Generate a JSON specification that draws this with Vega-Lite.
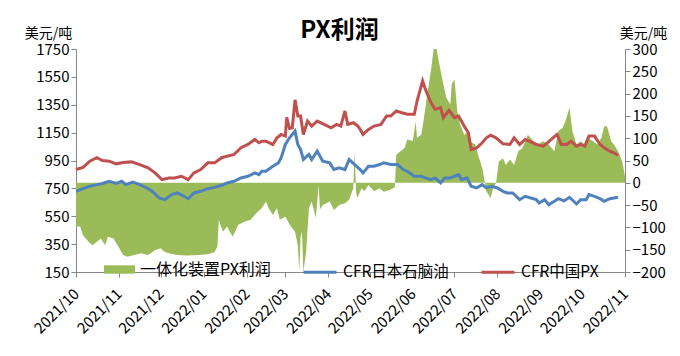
{
  "$schema": "https://vega.github.io/schema/vega-lite/v6.json",
  "width": 549,
  "height": 223,
  "autosize": {"type": "none"},
  "padding": {"left": 76, "top": 49, "right": 55, "bottom": 84},
  "background": "white",
  "config": {"font": "Noto Sans CJK SC", "view": {"stroke": null}, "axis": {"labelOverlap": false}, "axisY": {"labelOverlap": false}, "axisLeft": {"labelOverlap": false}},
  "title": {"text": "PX利润", "fontSize": 24, "fontWeight": "bold", "color": "black", "dx": -11, "dy": 23, "offset": 6, "font": "Noto Sans CJK SC"},
  "datasets": {
    "profit": [
      {"d":"2021-10-01","v":-98},{"d":"2021-10-04","v":-98},{"d":"2021-10-06","v":-117},{"d":"2021-10-10","v":-132},{"d":"2021-10-13","v":-140},{"d":"2021-10-16","v":-132},{"d":"2021-10-19","v":-125},{"d":"2021-10-22","v":-140},{"d":"2021-10-24","v":-121},{"d":"2021-10-28","v":-125},{"d":"2021-10-31","v":-140},
      {"d":"2021-11-04","v":-162},{"d":"2021-11-07","v":-166},{"d":"2021-11-12","v":-162},{"d":"2021-11-17","v":-158},{"d":"2021-11-22","v":-162},{"d":"2021-11-27","v":-151},
      {"d":"2021-12-01","v":-147},{"d":"2021-12-04","v":-155},{"d":"2021-12-07","v":-158},{"d":"2021-12-13","v":-162},{"d":"2021-12-20","v":-163},{"d":"2021-12-28","v":-162},
      {"d":"2022-01-04","v":-160},{"d":"2022-01-09","v":-155},{"d":"2022-01-11","v":-143},{"d":"2022-01-12","v":-83},{"d":"2022-01-15","v":-110},{"d":"2022-01-18","v":-98},{"d":"2022-01-22","v":-121},{"d":"2022-01-26","v":-94},{"d":"2022-01-31","v":-87},
      {"d":"2022-02-04","v":-83},{"d":"2022-02-08","v":-68},{"d":"2022-02-12","v":-57},{"d":"2022-02-15","v":-42},{"d":"2022-02-17","v":-57},{"d":"2022-02-20","v":-72},{"d":"2022-02-23","v":-57},{"d":"2022-02-25","v":-83},
      {"d":"2022-03-01","v":-76},{"d":"2022-03-05","v":-98},{"d":"2022-03-08","v":-110},{"d":"2022-03-10","v":-140},{"d":"2022-03-11","v":-200},{"d":"2022-03-12","v":-120},{"d":"2022-03-13","v":-110},{"d":"2022-03-14","v":-200},{"d":"2022-03-16","v":-155},{"d":"2022-03-18","v":-57},{"d":"2022-03-20","v":-42},{"d":"2022-03-23","v":-79},{"d":"2022-03-25","v":-5},{"d":"2022-03-26","v":-60},{"d":"2022-03-28","v":-50},
      {"d":"2022-04-02","v":-42},{"d":"2022-04-05","v":-61},{"d":"2022-04-09","v":-50},{"d":"2022-04-13","v":-46},{"d":"2022-04-16","v":-38},{"d":"2022-04-19","v":-12},{"d":"2022-04-20","v":70},{"d":"2022-04-21","v":-20},{"d":"2022-04-22","v":-34},{"d":"2022-04-25","v":-12},{"d":"2022-04-27","v":-19},{"d":"2022-04-30","v":-5},
      {"d":"2022-05-04","v":-19},{"d":"2022-05-08","v":-12},{"d":"2022-05-11","v":-20},{"d":"2022-05-16","v":-15},{"d":"2022-05-19","v":-10},{"d":"2022-05-20","v":63},{"d":"2022-05-22","v":68},{"d":"2022-05-26","v":78},{"d":"2022-05-28","v":97},
      {"d":"2022-06-01","v":94},{"d":"2022-06-03","v":138},{"d":"2022-06-04","v":101},{"d":"2022-06-07","v":108},{"d":"2022-06-09","v":146},{"d":"2022-06-11","v":191},{"d":"2022-06-14","v":251},{"d":"2022-06-16","v":300},{"d":"2022-06-18","v":300},{"d":"2022-06-21","v":251},{"d":"2022-06-23","v":221},{"d":"2022-06-25","v":191},{"d":"2022-06-28","v":176},{"d":"2022-06-29","v":221},
      {"d":"2022-07-01","v":232},{"d":"2022-07-03","v":161},{"d":"2022-07-05","v":131},{"d":"2022-07-08","v":108},{"d":"2022-07-10","v":112},{"d":"2022-07-12","v":93},{"d":"2022-07-16","v":86},{"d":"2022-07-18","v":63},{"d":"2022-07-21","v":33},{"d":"2022-07-23","v":0},{"d":"2022-07-24","v":-19},{"d":"2022-07-27","v":-34},{"d":"2022-07-29","v":-12},{"d":"2022-07-31","v":0},
      {"d":"2022-08-02","v":48},{"d":"2022-08-05","v":55},{"d":"2022-08-07","v":40},{"d":"2022-08-10","v":52},{"d":"2022-08-13","v":40},{"d":"2022-08-16","v":71},{"d":"2022-08-19","v":78},{"d":"2022-08-23","v":108},{"d":"2022-08-27","v":93},{"d":"2022-08-30","v":86},
      {"d":"2022-09-03","v":93},{"d":"2022-09-07","v":86},{"d":"2022-09-11","v":71},{"d":"2022-09-14","v":116},{"d":"2022-09-17","v":123},{"d":"2022-09-19","v":138},{"d":"2022-09-22","v":168},{"d":"2022-09-24","v":116},{"d":"2022-09-27","v":86},{"d":"2022-09-30","v":93},
      {"d":"2022-10-03","v":86},{"d":"2022-10-05","v":101},{"d":"2022-10-09","v":93},{"d":"2022-10-12","v":86},{"d":"2022-10-15","v":101},{"d":"2022-10-17","v":127},{"d":"2022-10-19","v":127},{"d":"2022-10-22","v":93},{"d":"2022-10-24","v":86},{"d":"2022-10-27","v":71},{"d":"2022-10-30","v":48},{"d":"2022-11-01","v":14}
    ],
    "naphtha": [
      {"d":"2021-10-01","v":729},{"d":"2021-10-06","v":748},{"d":"2021-10-11","v":765},{"d":"2021-10-16","v":777},{"d":"2021-10-20","v":785},{"d":"2021-10-25","v":801},{"d":"2021-10-30","v":785},
      {"d":"2021-11-03","v":801},{"d":"2021-11-06","v":777},{"d":"2021-11-11","v":795},{"d":"2021-11-16","v":777},{"d":"2021-11-21","v":753},{"d":"2021-11-25","v":729},{"d":"2021-11-30","v":681},
      {"d":"2021-12-04","v":669},{"d":"2021-12-09","v":705},{"d":"2021-12-13","v":717},{"d":"2021-12-18","v":693},{"d":"2021-12-21","v":676},{"d":"2021-12-25","v":717},{"d":"2021-12-30","v":729},
      {"d":"2022-01-04","v":748},{"d":"2022-01-09","v":757},{"d":"2022-01-14","v":772},{"d":"2022-01-18","v":789},{"d":"2022-01-23","v":801},{"d":"2022-01-28","v":825},
      {"d":"2022-02-02","v":837},{"d":"2022-02-07","v":861},{"d":"2022-02-10","v":849},{"d":"2022-02-12","v":873},{"d":"2022-02-15","v":873},{"d":"2022-02-20","v":909},{"d":"2022-02-24","v":933},{"d":"2022-02-26","v":970},
      {"d":"2022-03-01","v":1065},{"d":"2022-03-04","v":1113},{"d":"2022-03-06","v":1137},{"d":"2022-03-08","v":1161},{"d":"2022-03-10","v":1065},{"d":"2022-03-12","v":1029},{"d":"2022-03-14","v":957},{"d":"2022-03-18","v":993},{"d":"2022-03-20","v":957},{"d":"2022-03-24","v":1017},{"d":"2022-03-28","v":945},
      {"d":"2022-04-02","v":933},{"d":"2022-04-05","v":885},{"d":"2022-04-09","v":897},{"d":"2022-04-13","v":885},{"d":"2022-04-16","v":957},{"d":"2022-04-20","v":921},{"d":"2022-04-24","v":885},{"d":"2022-04-26","v":861},{"d":"2022-04-30","v":909},
      {"d":"2022-05-04","v":909},{"d":"2022-05-08","v":921},{"d":"2022-05-11","v":933},{"d":"2022-05-16","v":921},{"d":"2022-05-21","v":921},{"d":"2022-05-25","v":885},{"d":"2022-05-28","v":873},
      {"d":"2022-06-02","v":837},{"d":"2022-06-07","v":837},{"d":"2022-06-10","v":825},{"d":"2022-06-14","v":813},{"d":"2022-06-17","v":825},{"d":"2022-06-21","v":789},{"d":"2022-06-24","v":825},{"d":"2022-06-28","v":825},
      {"d":"2022-07-01","v":837},{"d":"2022-07-04","v":849},{"d":"2022-07-06","v":813},{"d":"2022-07-10","v":825},{"d":"2022-07-13","v":765},{"d":"2022-07-17","v":753},{"d":"2022-07-21","v":777},{"d":"2022-07-24","v":753},{"d":"2022-07-28","v":765},
      {"d":"2022-08-01","v":753},{"d":"2022-08-05","v":729},{"d":"2022-08-08","v":717},{"d":"2022-08-12","v":717},{"d":"2022-08-17","v":669},{"d":"2022-08-21","v":693},{"d":"2022-08-25","v":681},{"d":"2022-08-29","v":669},{"d":"2022-08-31","v":645},
      {"d":"2022-09-04","v":669},{"d":"2022-09-07","v":633},{"d":"2022-09-11","v":657},{"d":"2022-09-14","v":676},{"d":"2022-09-18","v":660},{"d":"2022-09-22","v":686},{"d":"2022-09-27","v":638},{"d":"2022-09-30","v":669},
      {"d":"2022-10-04","v":669},{"d":"2022-10-06","v":705},{"d":"2022-10-10","v":693},{"d":"2022-10-14","v":676},{"d":"2022-10-17","v":657},{"d":"2022-10-21","v":676},{"d":"2022-10-24","v":681},{"d":"2022-10-27","v":686}
    ],
    "px": [
      {"d":"2021-10-01","v":885},{"d":"2021-10-06","v":900},{"d":"2021-10-11","v":945},{"d":"2021-10-16","v":970},{"d":"2021-10-20","v":950},{"d":"2021-10-25","v":945},{"d":"2021-10-30","v":926},
      {"d":"2021-11-04","v":935},{"d":"2021-11-10","v":940},{"d":"2021-11-16","v":921},{"d":"2021-11-22","v":897},{"d":"2021-11-27","v":861},
      {"d":"2021-12-02","v":813},{"d":"2021-12-07","v":825},{"d":"2021-12-11","v":825},{"d":"2021-12-16","v":837},{"d":"2021-12-21","v":813},{"d":"2021-12-25","v":861},{"d":"2021-12-30","v":885},
      {"d":"2022-01-04","v":933},{"d":"2022-01-09","v":933},{"d":"2022-01-14","v":970},{"d":"2022-01-18","v":981},{"d":"2022-01-23","v":993},{"d":"2022-01-28","v":1042},
      {"d":"2022-02-02","v":1065},{"d":"2022-02-07","v":1101},{"d":"2022-02-10","v":1077},{"d":"2022-02-12","v":1089},{"d":"2022-02-15","v":1089},{"d":"2022-02-20","v":1065},{"d":"2022-02-23","v":1113},{"d":"2022-02-26","v":1137},
      {"d":"2022-03-01","v":1125},{"d":"2022-03-02","v":1260},{"d":"2022-03-04","v":1180},{"d":"2022-03-06","v":1185},{"d":"2022-03-08","v":1385},{"d":"2022-03-10","v":1269},{"d":"2022-03-12","v":1269},{"d":"2022-03-14","v":1137},{"d":"2022-03-17","v":1233},{"d":"2022-03-20","v":1197},{"d":"2022-03-24","v":1233},{"d":"2022-03-29","v":1209},
      {"d":"2022-04-03","v":1185},{"d":"2022-04-07","v":1209},{"d":"2022-04-10","v":1197},{"d":"2022-04-13","v":1305},{"d":"2022-04-15","v":1209},{"d":"2022-04-19","v":1221},{"d":"2022-04-22","v":1200},{"d":"2022-04-24","v":1173},{"d":"2022-04-26","v":1137},{"d":"2022-04-30","v":1173},
      {"d":"2022-05-04","v":1197},{"d":"2022-05-09","v":1209},{"d":"2022-05-13","v":1269},{"d":"2022-05-16","v":1269},{"d":"2022-05-20","v":1305},{"d":"2022-05-24","v":1293},{"d":"2022-05-28","v":1282},
      {"d":"2022-06-02","v":1282},{"d":"2022-06-04","v":1377},{"d":"2022-06-08","v":1521},{"d":"2022-06-10","v":1462},{"d":"2022-06-14","v":1366},{"d":"2022-06-17","v":1317},{"d":"2022-06-21","v":1329},{"d":"2022-06-23","v":1257},{"d":"2022-06-27","v":1310},
      {"d":"2022-07-01","v":1257},{"d":"2022-07-04","v":1269},{"d":"2022-07-08","v":1197},{"d":"2022-07-11","v":1149},{"d":"2022-07-13","v":1029},{"d":"2022-07-17","v":1041},{"d":"2022-07-21","v":1077},{"d":"2022-07-24","v":1113},{"d":"2022-07-27","v":1132},{"d":"2022-07-31","v":1113},
      {"d":"2022-08-05","v":1070},{"d":"2022-08-10","v":1065},{"d":"2022-08-13","v":1113},{"d":"2022-08-17","v":1065},{"d":"2022-08-21","v":1101},{"d":"2022-08-24","v":1089},{"d":"2022-08-29","v":1065},
      {"d":"2022-09-03","v":1053},{"d":"2022-09-06","v":1077},{"d":"2022-09-10","v":1113},{"d":"2022-09-13","v":1137},{"d":"2022-09-16","v":1065},{"d":"2022-09-20","v":1065},{"d":"2022-09-23","v":1089},{"d":"2022-09-27","v":1053},{"d":"2022-09-30","v":1065},
      {"d":"2022-10-03","v":1053},{"d":"2022-10-06","v":1125},{"d":"2022-10-10","v":1125},{"d":"2022-10-14","v":1065},{"d":"2022-10-17","v":1041},{"d":"2022-10-21","v":1017},{"d":"2022-10-24","v":1005},{"d":"2022-10-27","v":988}
    ]
  },
  "layer": [
    {
      "data": {"name": "profit"},
      "mark": {"type": "area", "clip": true, "opacity": 1},
      "encoding": {
        "x": {"field": "d", "type": "temporal",
          "scale": {"type": "utc", "domain": [{"year": 2021, "month": 10, "date": 1, "utc": true}, {"year": 2022, "month": 11, "date": 1, "utc": true}]},
          "axis": {"title": null, "format": "%Y/%m", "tickCount": {"interval": "month", "step": 1}, "labelAngle": -45, "labelAlign": "right", "labelBaseline": "middle", "labelFontSize": 15, "labelColor": "black", "labelPadding": 14, "labelDx": 3, "labelOverlap": false, "labelFlush": false, "labelBound": false, "grid": false, "tickSize": 5, "domainColor": "#868686", "tickColor": "#868686"}},
        "y": {"field": "v", "type": "quantitative", "stack": null,
          "scale": {"domain": [-200, 300], "nice": false, "zero": false},
          "axis": {"orient": "right", "values": [-200, -150, -100, -50, 0, 50, 100, 150, 200, 250, 300], "format": "d", "labelOverlap": false, "title": "美元/吨", "titleAngle": 0, "titleX": 18, "titleY": -9, "titleAlign": "center", "titleBaseline": "bottom", "titleFontSize": 14, "titleFontWeight": "normal", "titleColor": "black", "labelFontSize": 15, "labelColor": "black", "grid": false, "tickSize": 5, "domainColor": "#868686", "tickColor": "#868686"}},
        "y2": {"datum": 0},
        "fill": {"datum": "一体化装置PX利润", "type": "nominal",
          "scale": {"domain": ["一体化装置PX利润"], "range": ["#9BBB59"]},
          "legend": {"title": null, "orient": "none", "legendX": 28, "legendY": 205, "symbolType": "M-1,-0.27L1,-0.27L1,0.27L-1,0.27Z", "symbolSize": 961, "symbolStrokeWidth": 0, "labelFontSize": 16, "labelColor": "black", "labelOffset": 5}}
      }
    },
    {
      "layer": [
        {
          "data": {"name": "naphtha"},
          "mark": {"type": "line", "strokeWidth": 3},
          "encoding": {
            "x": {"field": "d", "type": "temporal"},
            "y": {"field": "v", "type": "quantitative",
              "scale": {"domain": [150, 1750], "nice": false, "zero": false},
              "axis": {"orient": "left", "values": [150, 350, 550, 750, 950, 1150, 1350, 1550, 1750], "format": "d", "labelOverlap": false, "title": "美元/吨", "titleAngle": 0, "titleX": -28, "titleY": -9, "titleAlign": "center", "titleBaseline": "bottom", "titleFontSize": 14, "titleFontWeight": "normal", "titleColor": "black", "labelFontSize": 15, "labelColor": "black", "grid": false, "tickSize": 5, "domainColor": "#868686", "tickColor": "#868686"}},
            "stroke": {"datum": "CFR日本石脑油", "type": "nominal",
              "scale": {"domain": ["CFR日本石脑油", "CFR中国PX"], "range": ["#4F81BD", "#C0504D"]},
              "legend": {"title": null, "orient": "none", "direction": "horizontal", "legendX": 226, "legendY": 205, "symbolType": "stroke", "symbolSize": 1089, "symbolStrokeWidth": 3, "labelFontSize": 15.5, "labelColor": "black", "labelOffset": 5, "columnPadding": 26}}
          }
        },
        {
          "data": {"name": "px"},
          "mark": {"type": "line", "strokeWidth": 3},
          "encoding": {
            "x": {"field": "d", "type": "temporal"},
            "y": {"field": "v", "type": "quantitative",
              "axis": {"orient": "left", "values": [150, 350, 550, 750, 950, 1150, 1350, 1550, 1750], "format": "d", "labelOverlap": false, "title": "美元/吨", "titleAngle": 0, "titleX": -28, "titleY": -9, "titleAlign": "center", "titleBaseline": "bottom", "titleFontSize": 14, "titleFontWeight": "normal", "titleColor": "black", "labelFontSize": 15, "labelColor": "black", "grid": false, "tickSize": 5, "domainColor": "#868686", "tickColor": "#868686"}},
            "stroke": {"datum": "CFR中国PX", "type": "nominal"}
          }
        }
      ]
    }
  ],
  "resolve": {"scale": {"y": "independent"}}
}
